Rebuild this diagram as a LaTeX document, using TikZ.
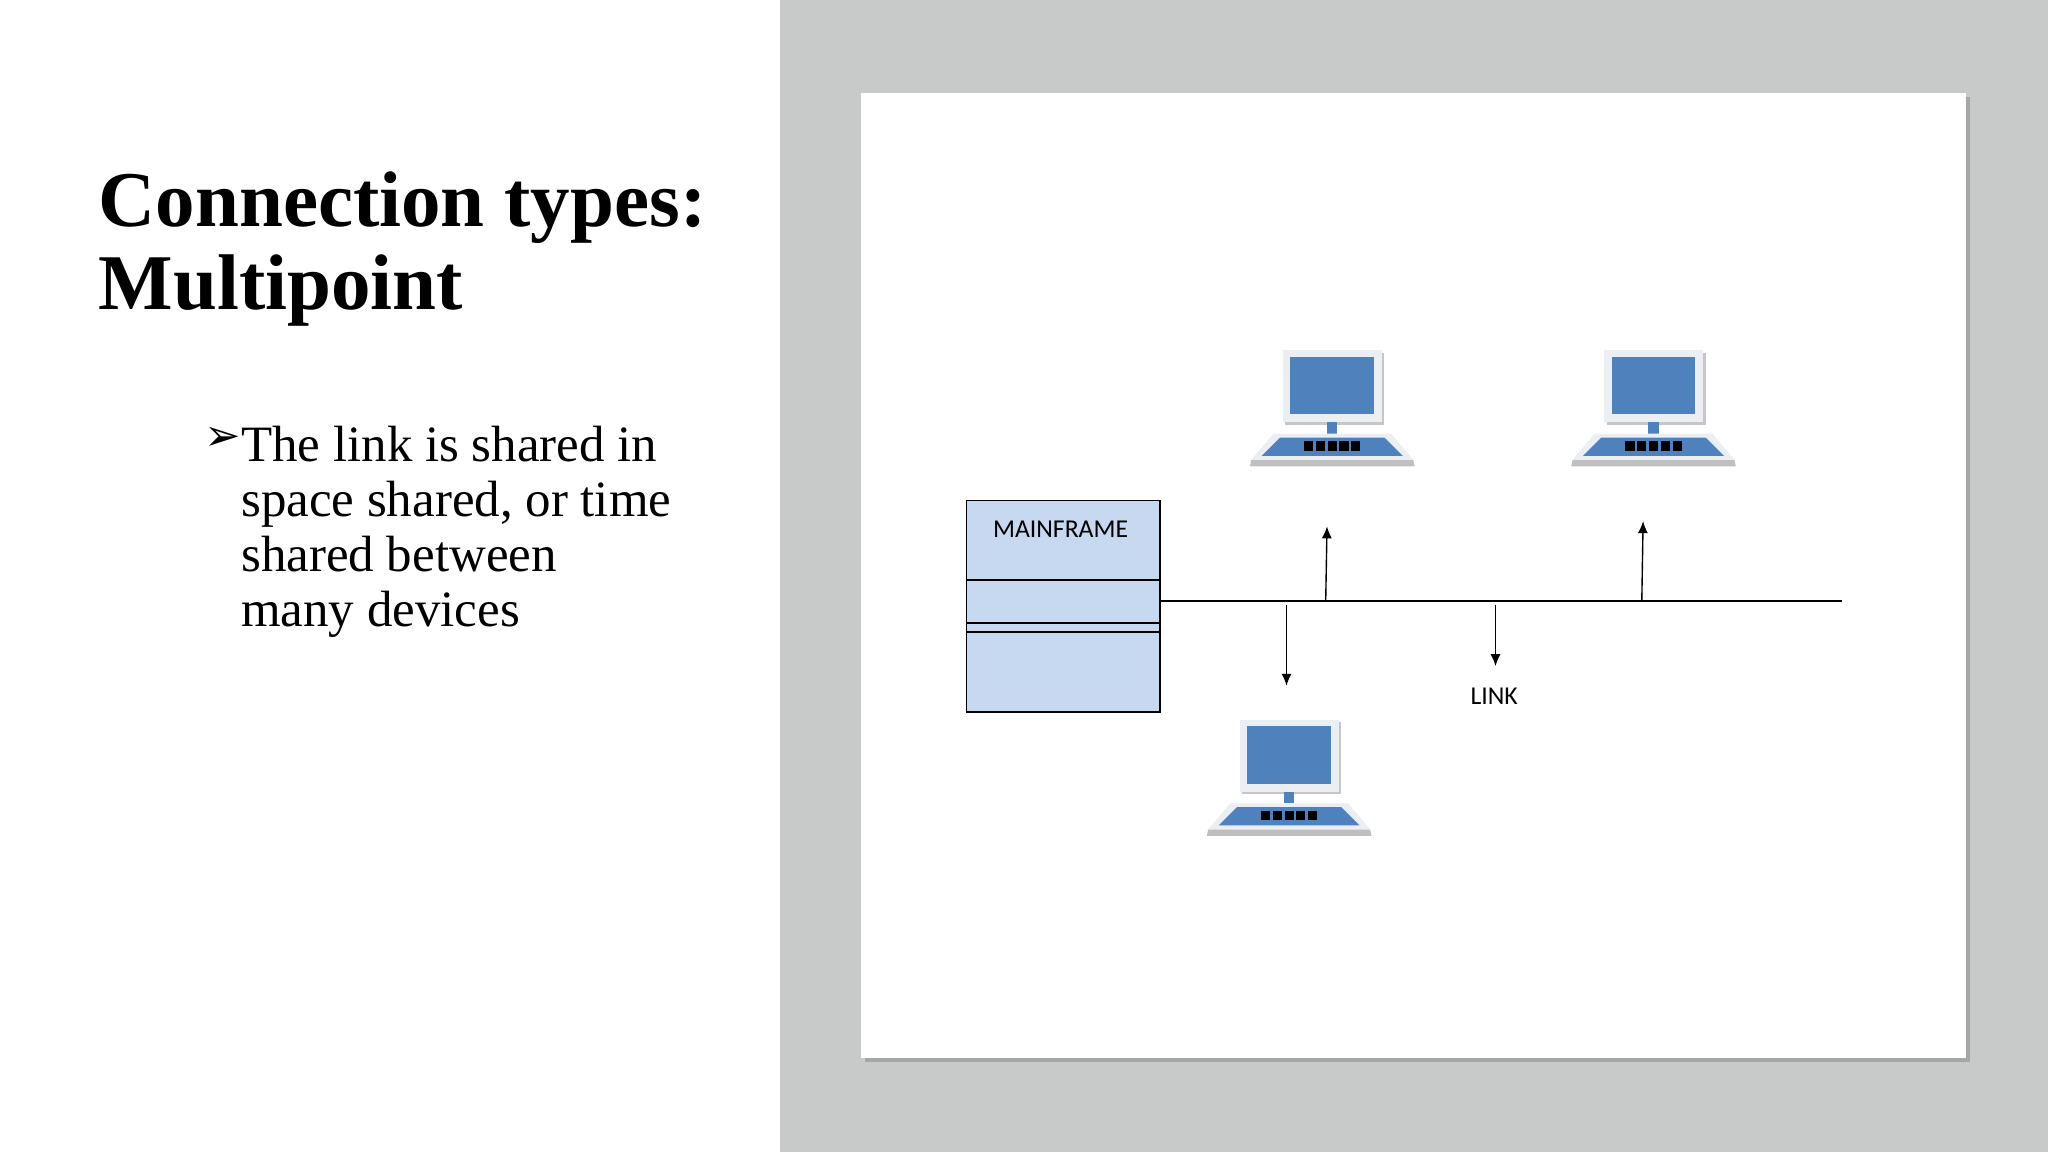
\documentclass[tikz,border=0pt]{standalone}
\usepackage{fontspec}
\setmainfont{Liberation Serif}
\setsansfont{Carlito}
\newfontfamily\symfont{DejaVu Sans}
\usetikzlibrary{arrows.meta}
\definecolor{slidegray}{RGB}{200,201,201}
\definecolor{boxblue}{RGB}{198,217,240}
\definecolor{screenblue}{RGB}{79,129,189}
\definecolor{framegray}{RGB}{235,238,242}
\tikzset{
  thinline/.style={line width=0.3pt},
  linkarrow/.style={thinline, -{Latex[length=2.6pt,width=2.2pt]}},
  pics/computer/.style={code={
    % monitor
    \fill[gray!45] (-36,2) rectangle (40,57);
    \fill[framegray] (-38,0) rectangle (38,55);
    \fill[screenblue] (-32,5) rectangle (32,49);
    \fill[screenblue] (-4,55) rectangle (4,64);
    % base
    \fill[gray!50] (-62,84) -- (62,84) -- (63,89) -- (-63,89) -- cycle;
    \fill[framegray] (-45,64) -- (45,64) -- (62,84) -- (-62,84) -- cycle;
    \fill[screenblue] (-40,67) -- (40,67) -- (54,81) -- (-54,81) -- cycle;
    \foreach \k in {-2,...,2}
      \fill[black] ({\k*9-3.5},70) rectangle ({\k*9+3.5},77);
  }}
}
\begin{document}
\begin{tikzpicture}[x=0.1mm,y=-0.1mm]
  \useasboundingbox (0,0) rectangle (1568,882);
  % backgrounds
  \fill[slidegray] (597,0) rectangle (1568,882);
  \fill[gray!70] (662,74) rectangle (1508,813);
  \fill[white] (659,71) rectangle (1505,810);

  % title and text
  \node[anchor=base west, inner sep=0pt, font=\fontsize{17.2}{18.1}\selectfont\bfseries, align=left] (title) at (75,237)
    {Connection types:\\Multipoint};
  \node[anchor=base west, inner sep=0pt, font=\symfont\fontsize{9.5}{10}\selectfont] (bullet) at (156,345) {➢};
  \node[anchor=base west, inner sep=0pt, font=\fontsize{11.1}{12.05}\selectfont, align=left] (body) at (184,480)
    {The link is shared in\\space shared, or time\\shared between\\many devices};

  % mainframe
  \draw[thinline, fill=boxblue] (740,383) rectangle (888,545);
  \draw[thinline] (740,444) -- (888,444);
  \draw[thinline] (740,477) -- (888,477);
  \draw[thinline] (740,484) -- (888,484);
  \node[font=\sffamily\fontsize{5.6}{6}\selectfont] (mainframe) at (812,405) {MAINFRAME};

  % link line
  \coordinate (linkstart) at (888,460);
  \coordinate (linkend) at (1410,460);
  \draw[thinline] (linkstart) -- (linkend);

  % arrows
  \coordinate (tapA) at (1015,460);  \coordinate (headA) at (1016,403);
  \coordinate (tapB) at (985,463);   \coordinate (headB) at (985,525);
  \coordinate (tapC) at (1145,463);  \coordinate (headC) at (1145,510);
  \coordinate (tapD) at (1257,460);  \coordinate (headD) at (1258,399);
  \draw[linkarrow] (tapA) -- (headA);
  \draw[linkarrow] (tapB) -- (headB);
  \draw[linkarrow] (tapC) -- (headC);
  \draw[linkarrow] (tapD) -- (headD);
  \node[font=\sffamily\fontsize{5.6}{6}\selectfont] (link) at (1144,533) {LINK};

  % computers
  \pic (pcA) at (1020,268) {computer};
  \pic (pcB) at (1266,268) {computer};
  \pic (pcC) at (987,551) {computer};
\end{tikzpicture}
\end{document}
